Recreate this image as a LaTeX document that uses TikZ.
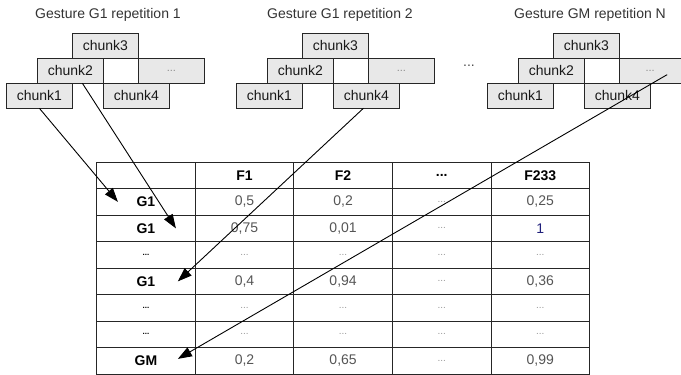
\documentclass[tikz,border=0pt]{standalone}
\usepackage{fontspec}
\setmainfont{Liberation Sans}
\usetikzlibrary{arrows.meta,matrix}
\definecolor{chunkfill}{HTML}{E8E8E8}
\definecolor{valgray}{HTML}{555555}
\definecolor{valblue}{HTML}{1F1F7A}
\colorlet{titlecolor}{black!80}

\tikzset{
  chunk/.style={draw=black!85, fill=chunkfill, line width=0.8pt, inner sep=0pt,
    minimum width=66pt, minimum height=24.5pt, anchor=north west,
    font=\fontsize{14}{16}\selectfont, text=black!90},
  gapbox/.style={chunk, fill=white, minimum width=35pt},
  dotsbox/.style={chunk, text=black!45, font=\fontsize{11}{12}\selectfont},
  title/.style={text=titlecolor, font=\fontsize{14}{16}\selectfont},
  cell/.style={draw=black!85, line width=0.8pt, minimum width=98.6pt,
    minimum height=26.5pt, inner sep=0pt, anchor=center, text=valgray,
    font=\fontsize{14}{16}\selectfont},
  hd/.style={text=black, font=\fontsize{14}{16}\selectfont\bfseries},
  rowdots/.style={text=black, font=\fontsize{8}{9}\selectfont\bfseries},
  celldots/.style={text=black!40, font=\fontsize{10}{11}\selectfont},
  arr/.style={line width=0.9pt, -{Triangle[length=14pt,width=10pt]}}
}

\begin{document}
\begin{tikzpicture}[x=1pt, y=-1pt]
        \useasboundingbox (0,0) rectangle (681,375);

        % repetition 1
        \node (t1) [title] at (108,15) {Gesture G1 repetition 1};
        \node (c3a) [chunk] at (72,33) {chunk3};
        \node (c2a) [chunk] at (37,58) {chunk2};
        \node (gapa) [gapbox] at (103,58) {};
        \node (dotsa) [dotsbox] at (138,58) {...};
        \node (c1a) [chunk] at (6,83) {chunk1};
        \node (c4a) [chunk] at (103,83) {chunk4};

        % repetition 2
        \node (t2) [title] at (340,15) {Gesture G1 repetition 2};
        \node (c3b) [chunk] at (302,33) {chunk3};
        \node (c2b) [chunk] at (267,58) {chunk2};
        \node (gapb) [gapbox] at (333,58) {};
        \node (dotsb) [dotsbox] at (368,58) {...};
        \node (c1b) [chunk] at (236,83) {chunk1};
        \node (c4b) [chunk] at (333,83) {chunk4};

        \node (skip) [title, text=black!70] at (469,66) {...};

        % repetition N
        \node (t3) [title] at (590,15) {Gesture GM repetition N};
        \node (c3c) [chunk] at (553,33) {chunk3};
        \node (c2c) [chunk] at (518,58) {chunk2};
        \node (gapc) [gapbox] at (584,58) {};
        \node (dotsc) [dotsbox, minimum width=61.5pt] at (619,58) {...};
        \node (c1c) [chunk] at (487,83) {chunk1};
        \node (c4c) [chunk] at (584,83) {chunk4};

        % feature table
        \matrix (tab) [matrix of nodes, nodes in empty cells, nodes={cell},
          column sep=-0.8pt, row sep=-0.8pt, inner sep=0pt, anchor=north west] at (96,161.5) {
                        & |[hd]| F1 & |[hd]| F2 & |[hd]| ...     & |[hd]| F233 \\
          |[hd]| G1     & 0,5       & 0,2       & |[celldots]| ... & 0,25 \\
          |[hd]| G1     & 0,75      & 0,01      & |[celldots]| ... & |[text=valblue]| 1 \\
          |[rowdots]| ... & |[celldots]| ... & |[celldots]| ... & |[celldots]| ... & |[celldots]| ... \\
          |[hd]| G1     & 0,4       & 0,94      & |[celldots]| ... & 0,36 \\
          |[rowdots]| ... & |[celldots]| ... & |[celldots]| ... & |[celldots]| ... & |[celldots]| ... \\
          |[rowdots]| ... & |[celldots]| ... & |[celldots]| ... & |[celldots]| ... & |[celldots]| ... \\
          |[hd]| GM     & 0,2       & 0,65      & |[celldots]| ... & 0,99 \\
        };

        \draw [arr] (c1a.south) -- ([xshift=-28pt]tab-2-1.center);
        \draw [arr] ([xshift=12pt]c2a.south) -- ([xshift=30pt]tab-3-1.center);
        \draw [arr] ([xshift=-3pt]c4b.south) -- ([xshift=32pt]tab-5-1.center);
        \draw [arr] ([xshift=17pt,yshift=-4pt]dotsc.center) -- ([xshift=32pt,yshift=2pt]tab-8-1.center);
\end{tikzpicture}
\end{document}
